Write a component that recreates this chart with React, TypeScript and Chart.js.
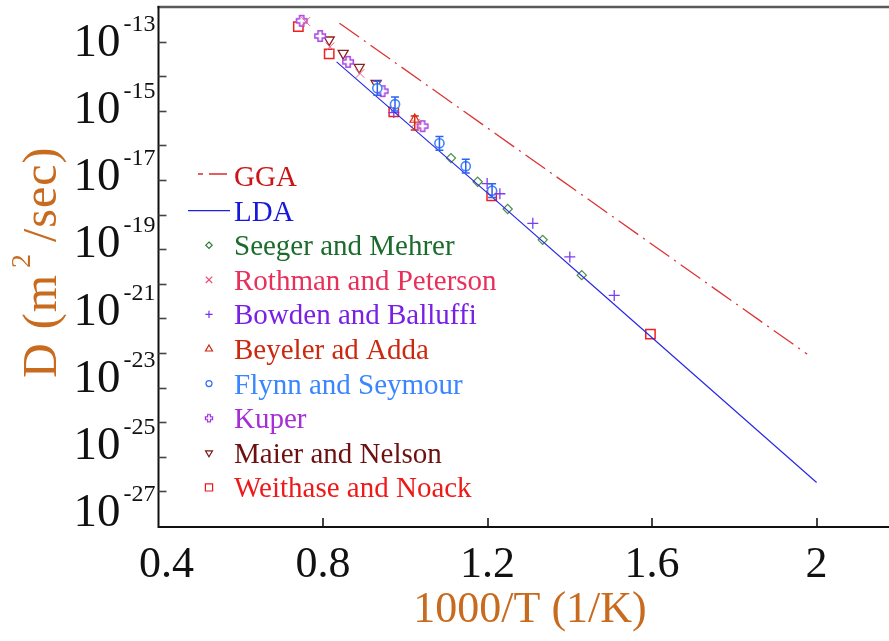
import React, { useEffect, useRef } from 'react';
import { Chart, registerables } from 'chart.js';

Chart.register(...registerables);

// ---- data: 1000/T (1/K) and D (m^2/sec) ----
const ggaX = [0.84, 1.344, 1.977];
const ggaD = [3.4e-13, 1.95e-17, 9.3e-23];

const ldaX = [0.833, 1.21, 1.473, 2.0];
const ldaD = [2.6e-14, 3.3e-18, 5.9e-21, 1.8e-26];

const seegerX = [1.111, 1.176, 1.249, 1.334, 1.429];
const seegerD = [4.3e-17, 8.9e-18, 1.45e-18, 1.86e-19, 1.78e-20];

const rothmanX = [0.758, 0.817, 0.89, 1.025];
const rothmanD = [3.8e-13, 7.1e-14, 1.2e-14, 4.4e-16];

const bowdenX = [0.972, 1.199, 1.23, 1.31, 1.4, 1.508];
const bowdenD = [8.9e-16, 7.9e-18, 4.0e-18, 5.6e-19, 6.0e-20, 4.6e-21];

const beyelerX = [1.023];
const beyelerD = [5.6e-16];
const beyelerHi = [7.1e-16];
const beyelerLo = [2.8e-16];

const flynnX = [0.932, 0.975, 1.083, 1.147, 1.211];
const flynnD = [4.5e-15, 1.55e-15, 1.15e-16, 2.5e-17, 4.9e-18];
const flynnHi = [7.1e-15, 2.5e-15, 1.8e-16, 4.0e-17, 7.8e-18];
const flynnLo = [2.8e-15, 9.8e-16, 7.2e-17, 1.6e-17, 3.1e-18];

const kuperX = [0.748, 0.793, 0.861, 0.945, 1.042];
const kuperD = [4.0e-13, 1.45e-13, 2.6e-14, 3.7e-15, 3.6e-16];

const maierX = [0.815, 0.849, 0.888, 0.929];
const maierD = [1.12e-13, 4.6e-14, 1.8e-14, 6.2e-15];

const weithaseX = [0.74, 0.815, 0.972, 1.21, 1.596];
const weithaseD = [2.7e-13, 4.4e-14, 9.3e-16, 3.5e-18, 3.5e-22];

const xTicks = [0.4, 0.8, 1.2, 1.6, 2];
const yLabelExps = [-13, -15, -17, -19, -21, -23, -25, -27];
const yTickExps = [-26, -25, -24, -23, -22, -21, -20, -19, -18, -17, -16, -15, -14, -13];

const SERIF = '"Liberation Serif", "Times New Roman", serif';
const TITLE_COLOR = '#c96b1f';

const pts = (xs: number[], ys: number[]) => xs.map((x, i) => ({ x, y: ys[i] }));

// outlined "fat plus" marker for the Kuper series
function makeFatPlus(color: string, s: number, lw: number): HTMLCanvasElement {
  const c = document.createElement('canvas');
  const size = Math.ceil(s + lw * 2 + 2);
  c.width = size;
  c.height = size;
  const g = c.getContext('2d')!;
  const cx = size / 2;
  const a = s / 2;
  const b = s / 5;
  g.beginPath();
  g.moveTo(cx - b, cx - a);
  g.lineTo(cx + b, cx - a);
  g.lineTo(cx + b, cx - b);
  g.lineTo(cx + a, cx - b);
  g.lineTo(cx + a, cx + b);
  g.lineTo(cx + b, cx + b);
  g.lineTo(cx + b, cx + a);
  g.lineTo(cx - b, cx + a);
  g.lineTo(cx - b, cx + b);
  g.lineTo(cx - a, cx + b);
  g.lineTo(cx - a, cx - b);
  g.lineTo(cx - b, cx - b);
  g.closePath();
  g.fillStyle = '#ffffff';
  g.fill();
  g.strokeStyle = color;
  g.lineWidth = lw;
  g.stroke();
  return c;
}

type Marker = 'diamond' | 'x' | 'plus' | 'tri' | 'circle' | 'fatplus' | 'dtri' | 'square';

function drawMarker(ctx: CanvasRenderingContext2D, m: Marker, x: number, y: number, r: number, color: string, lw: number) {
  ctx.save();
  ctx.strokeStyle = color;
  ctx.lineWidth = lw;
  ctx.beginPath();
  if (m === 'diamond') {
    ctx.moveTo(x, y - r); ctx.lineTo(x + r, y); ctx.lineTo(x, y + r); ctx.lineTo(x - r, y); ctx.closePath();
  } else if (m === 'x') {
    ctx.moveTo(x - r, y - r); ctx.lineTo(x + r, y + r); ctx.moveTo(x + r, y - r); ctx.lineTo(x - r, y + r);
  } else if (m === 'plus') {
    ctx.moveTo(x - r, y); ctx.lineTo(x + r, y); ctx.moveTo(x, y - r); ctx.lineTo(x, y + r);
  } else if (m === 'tri') {
    ctx.moveTo(x, y - r); ctx.lineTo(x + r * 0.87, y + r * 0.5); ctx.lineTo(x - r * 0.87, y + r * 0.5); ctx.closePath();
  } else if (m === 'dtri') {
    ctx.moveTo(x, y + r); ctx.lineTo(x + r * 0.87, y - r * 0.5); ctx.lineTo(x - r * 0.87, y - r * 0.5); ctx.closePath();
  } else if (m === 'circle') {
    ctx.arc(x, y, r, 0, Math.PI * 2);
  } else if (m === 'square') {
    ctx.rect(x - r, y - r, 2 * r, 2 * r);
  } else if (m === 'fatplus') {
    const img = makeFatPlus(color, r * 2, lw);
    ctx.drawImage(img, x - img.width / 2, y - img.height / 2);
  }
  if (m !== 'fatplus') ctx.stroke();
  ctx.restore();
}

interface LegendRow {
  name: string;
  color: string;
  markerColor: string;
  kind: 'dashdot' | 'solid' | Marker;
  r?: number;
}

const legendRows: LegendRow[] = [
  { name: 'GGA', color: '#cc1414', markerColor: '#dd2a2a', kind: 'dashdot' },
  { name: 'LDA', color: '#1616dd', markerColor: '#2020e0', kind: 'solid' },
  { name: 'Seeger and Mehrer', color: '#1b6b2c', markerColor: '#2e7a3a', kind: 'diamond', r: 3.2 },
  { name: 'Rothman and Peterson', color: '#e8305a', markerColor: '#ec4a70', kind: 'x', r: 3.2 },
  { name: 'Bowden and Balluffi', color: '#7820e6', markerColor: '#7a2ee8', kind: 'plus', r: 3.6 },
  { name: 'Beyeler ad Adda', color: '#cc2810', markerColor: '#cc2810', kind: 'tri', r: 4 },
  { name: 'Flynn and Seymour', color: '#3a86ff', markerColor: '#2f6ef0', kind: 'circle', r: 3 },
  { name: 'Kuper', color: '#a52ed6', markerColor: '#a235dc', kind: 'fatplus', r: 3.6 },
  { name: 'Maier and Nelson', color: '#6c1010', markerColor: '#7a1a1a', kind: 'dtri', r: 4 },
  { name: 'Weithase and Noack', color: '#ee1a1a', markerColor: '#ee1a1a', kind: 'square', r: 3.6 },
];

const errorBars = [
  { xs: flynnX, hi: flynnHi, lo: flynnLo, color: '#3060f0' },
  { xs: beyelerX, hi: beyelerHi, lo: beyelerLo, color: '#d42a10' },
];

const framePlugin = {
  id: 'frame',
  afterDatasetsDraw(chart: any) {
    const ctx: CanvasRenderingContext2D = chart.ctx;
    const xs = chart.scales.x;
    const ys = chart.scales.y;
    ctx.save();
    for (const eb of errorBars) {
      ctx.strokeStyle = eb.color;
      ctx.lineWidth = 1.5;
      eb.xs.forEach((xv, i) => {
        const px = xs.getPixelForValue(xv);
        const top = ys.getPixelForValue(eb.hi[i]);
        const bot = ys.getPixelForValue(eb.lo[i]);
        ctx.beginPath();
        ctx.moveTo(px, top); ctx.lineTo(px, bot);
        ctx.moveTo(px - 4, top); ctx.lineTo(px + 4, top);
        ctx.moveTo(px - 4, bot); ctx.lineTo(px + 4, bot);
        ctx.stroke();
      });
    }
    ctx.restore();
  },
  afterDraw(chart: any) {
    const ctx: CanvasRenderingContext2D = chart.ctx;
    const { left, right, top, bottom } = chart.chartArea;
    const xs = chart.scales.x;
    const ys = chart.scales.y;
    ctx.save();

    // axis frame
    ctx.lineWidth = 2.5;
    ctx.strokeStyle = '#5a5a5a';
    ctx.beginPath(); ctx.moveTo(left - 1, top); ctx.lineTo(right, top); ctx.stroke();
    ctx.lineWidth = 2;
    ctx.strokeStyle = '#111';
    ctx.beginPath(); ctx.moveTo(left, top - 1); ctx.lineTo(left, bottom + 1); ctx.lineTo(right, bottom + 1); ctx.stroke();

    // inward ticks
    ctx.strokeStyle = '#444';
    ctx.lineWidth = 1.6;
    for (const e of yTickExps) {
      const py = Math.round(ys.getPixelForValue(Math.pow(10, e))) + 0.5;
      ctx.beginPath(); ctx.moveTo(left, py); ctx.lineTo(left + 8, py); ctx.stroke();
    }
    ctx.lineWidth = 2;
    for (const t of xTicks) {
      if (t === xs.min) continue;
      const px = Math.round(xs.getPixelForValue(t));
      ctx.beginPath(); ctx.moveTo(px, bottom); ctx.lineTo(px, bottom - 8); ctx.stroke();
    }

    // y tick labels: 10 with superscript exponent (label column is set slightly tighter than the ticks)
    ctx.fillStyle = '#111';
    ctx.textBaseline = 'alphabetic';
    ctx.textAlign = 'left';
    const firstTick = ys.getPixelForValue(1e-13);
    for (const e of yLabelExps) {
      const tickY = ys.getPixelForValue(Math.pow(10, e));
      const cy = firstTick - 1.5 + (tickY - firstTick) * 0.97;
      const sup = '-' + String(Math.abs(e));
      ctx.font = `24px ${SERIF}`;
      const supW = ctx.measureText(sup).width;
      ctx.font = `47px ${SERIF}`;
      const baseW = ctx.measureText('10').width;
      const x0 = left - 3 - supW - baseW - 3;
      ctx.fillText('10', x0, cy + 16);
      ctx.font = `24px ${SERIF}`;
      ctx.fillText(sup, x0 + baseW + 3, cy - 9);
    }

    // x tick labels
    ctx.textAlign = 'center';
    ctx.font = `44px ${SERIF}`;
    for (const t of xTicks) {
      const px = xs.getPixelForValue(t);
      ctx.fillText(String(t), px + (t === xs.min ? 8 : 0), bottom + 51);
    }

    // axis titles
    ctx.fillStyle = TITLE_COLOR;
    ctx.font = `44px ${SERIF}`;
    ctx.fillText('1000/T (1/K)', 530, bottom + 96);

    ctx.save();
    ctx.translate(56, 378);
    ctx.rotate(-Math.PI / 2);
    ctx.textAlign = 'left';
    (ctx as any).letterSpacing = '1px';
    const p1 = 'D (m';
    const p2 = '2';
    const p3 = ' /sec)';
    ctx.font = `48px ${SERIF}`;
    const w1 = ctx.measureText(p1).width;
    ctx.font = `28px ${SERIF}`;
    const w2 = ctx.measureText(p2).width;
    ctx.font = `48px ${SERIF}`;
    ctx.fillText(p1, 0, 0);
    ctx.font = `28px ${SERIF}`;
    ctx.fillText(p2, w1 + 6, -26);
    ctx.font = `48px ${SERIF}`;
    ctx.fillText(p3, w1 + w2 + 4, 0);
    ctx.restore();

    // legend
    const rowH = 34.6;
    const base0 = 186;
    ctx.textAlign = 'left';
    ctx.font = `29px ${SERIF}`;
    legendRows.forEach((row, i) => {
      const by = base0 + i * rowH;
      const my = by - 10;
      if (row.kind === 'dashdot') {
        ctx.strokeStyle = row.markerColor;
        ctx.lineWidth = 1.3;
        ctx.beginPath();
        ctx.moveTo(198, my - 2); ctx.lineTo(203, my - 2);
        ctx.moveTo(209, my - 2); ctx.lineTo(227, my - 2);
        ctx.stroke();
      } else if (row.kind === 'solid') {
        ctx.strokeStyle = row.markerColor;
        ctx.lineWidth = 1.3;
        ctx.beginPath(); ctx.moveTo(188, my); ctx.lineTo(230, my); ctx.stroke();
      } else {
        drawMarker(ctx, row.kind, 209, my, row.r || 3, row.markerColor, 1.2);
      }
      ctx.fillStyle = row.color;
      ctx.fillText(row.name, 234, by);
    });

    ctx.restore();
  },
};

export default function App() {
  const canvasRef = useRef<HTMLCanvasElement | null>(null);

  useEffect(() => {
    const canvas = canvasRef.current;
    if (!canvas) return;
    const kuperImg = makeFatPlus('#a842e0', 10.5, 1.5);

    const scatterBase = { showLine: false, backgroundColor: 'rgba(0,0,0,0)' };

    const chart = new Chart(canvas, {
      type: 'scatter',
      data: {
        datasets: [
          {
            label: 'GGA', data: pts(ggaX, ggaD), showLine: true, pointRadius: 0,
            borderColor: '#dd3434', borderWidth: 1.3, borderDash: [24, 6, 2, 6],
          },
          {
            label: 'LDA', data: pts(ldaX, ldaD), showLine: true, pointRadius: 0,
            borderColor: '#2a2ae6', borderWidth: 1.2,
          },
          { ...scatterBase, label: 'Seeger and Mehrer', data: pts(seegerX, seegerD), pointStyle: 'rectRot', pointRadius: 4.6, borderColor: '#4a8f4a', borderWidth: 1.2 },
          { ...scatterBase, label: 'Rothman and Peterson', data: pts(rothmanX, rothmanD), pointStyle: 'crossRot', pointRadius: 6.2, borderColor: '#f0607e', borderWidth: 1 },
          { ...scatterBase, label: 'Bowden and Balluffi', data: pts(bowdenX, bowdenD), pointStyle: 'cross', pointRadius: 5.5, borderColor: '#7c3cee', borderWidth: 1.3 },
          { ...scatterBase, label: 'Beyeler ad Adda', data: pts(beyelerX, beyelerD), pointStyle: 'triangle', pointRadius: 5.5, borderColor: '#d42a10', borderWidth: 1.2 },
          { ...scatterBase, label: 'Flynn and Seymour', data: pts(flynnX, flynnD), pointStyle: 'circle', pointRadius: 4.6, borderColor: '#3d86ff', borderWidth: 1.6, backgroundColor: '#ffffff' },
          { ...scatterBase, label: 'Kuper', data: pts(kuperX, kuperD), pointStyle: kuperImg, pointRadius: 5 },
          { ...scatterBase, label: 'Maier and Nelson', data: pts(maierX, maierD), pointStyle: 'triangle', rotation: 180, pointRadius: 5.8, borderColor: '#8a2020', borderWidth: 1.3 },
          { ...scatterBase, label: 'Weithase and Noack', data: pts(weithaseX, weithaseD), pointStyle: 'rect', pointRadius: 6.6, borderColor: '#ee2020', borderWidth: 1.5 },
        ] as any,
      },
      options: {
        responsive: false,
        devicePixelRatio: 1,
        animation: false,
        layout: { autoPadding: false, padding: { left: 158.5, right: 0, top: 7, bottom: 115 } },
        plugins: { legend: { display: false }, tooltip: { enabled: false } },
        scales: {
          x: { type: 'linear', display: false, min: 0.4, max: 2.176 },
          y: { type: 'logarithmic', display: false, min: 1e-27, max: 1e-12 },
        },
      },
      plugins: [framePlugin],
    });
    return () => chart.destroy();
  }, []);

  return (
    <div style={{ position: 'absolute', left: 0, top: 0, width: 889, height: 641, background: '#fff' }}>
      <canvas ref={canvasRef} width={889} height={641} style={{ display: 'block' }} />
    </div>
  );
}
